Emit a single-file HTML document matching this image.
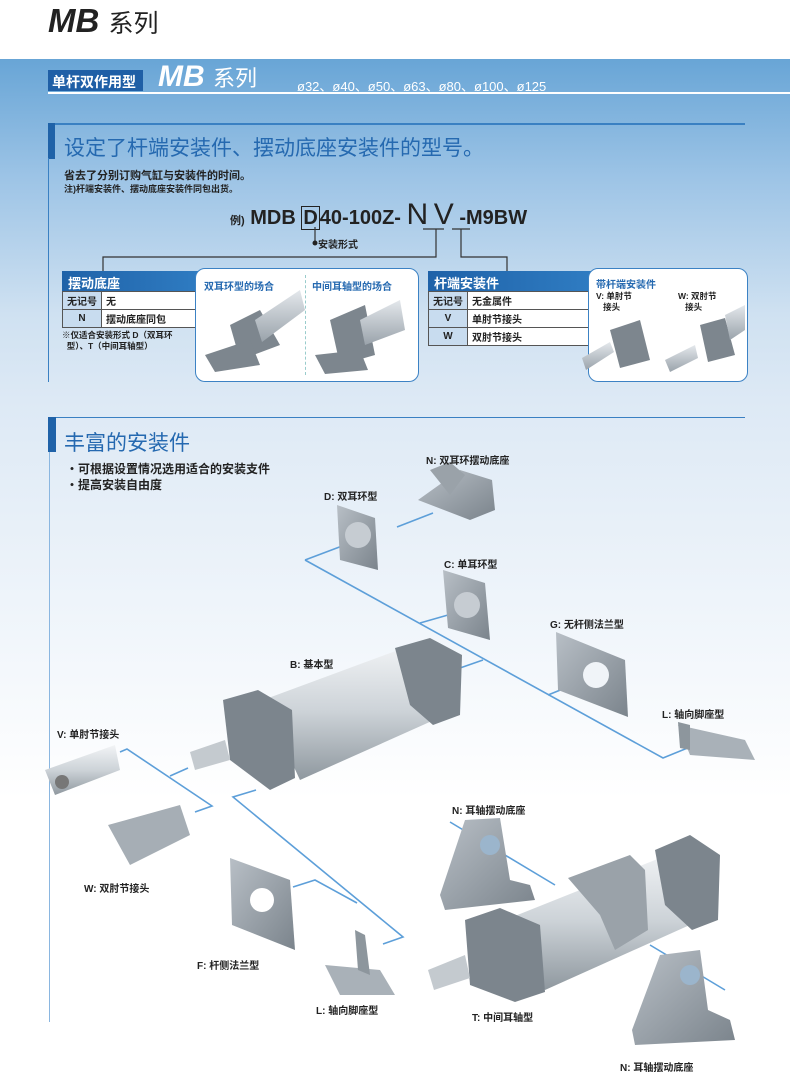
<!DOCTYPE html>
<html><head><meta charset="utf-8"><style>
body{margin:0;width:790px;height:1086px;position:relative;overflow:hidden;background:#fff;font-family:"Liberation Sans","Noto Sans CJK SC",sans-serif;color:#222}
.a{position:absolute;white-space:nowrap}
.top{position:absolute;left:0;top:59px;width:790px;height:340px;background:linear-gradient(#68a5d6 0%,#9dc4e6 35%,#cfe1f1 75%,#dde9f5 100%)}
.low{position:absolute;left:0;top:399px;width:790px;height:400px;background:linear-gradient(#dde9f5,#eef4fa 50%,#fff)}
table{border-collapse:collapse;font-size:10px;font-weight:bold}
td{border:1px solid #555;background:#fff;height:17px;padding:0 4px}
td.k{background:#c8dcef;text-align:center}
.hd{background:linear-gradient(90deg,#1f62a8,#2f7cc2);color:#fff;font-size:13px;font-weight:bold;padding:2px 6px;height:16px}
.panel{position:absolute;background:#fff;border:1.5px solid #3c82c4;border-radius:10px}
.lb{font-size:10px;font-weight:bold}
</style></head><body>
<div class="a" style="left:48px;top:2px;font-size:33px;font-weight:bold;font-style:italic">MB <span style="font-style:normal;font-weight:normal;font-size:25px">系列</span></div>
<div class="top"></div><div class="low"></div>
<div class="a" style="left:48px;top:70px;width:95px;height:21px;background:#1f5fa6"></div>
<div class="a" style="left:52px;top:72px;font-size:14px;color:#fff;font-weight:bold">单杆双作用型</div>
<div class="a" style="left:158px;top:60px;font-size:30px;color:#fff;font-weight:bold;font-style:italic">MB <span style="font-style:normal;font-weight:normal;font-size:22px">系列</span></div>
<div class="a" style="left:297px;top:76px;font-size:13px;color:#fff">ø32、ø40、ø50、ø63、ø80、ø100、ø125</div>
<div class="a" style="left:48px;top:92px;width:742px;height:2px;background:#fff"></div>

<div class="a" style="left:48px;top:123px;width:697px;height:2px;background:#3a80c2"></div>
<div class="a" style="left:48px;top:123px;width:7px;height:36px;background:#1f62a8"></div>
<div class="a" style="left:48px;top:158px;width:1px;height:224px;background:#3a80c2"></div>
<div class="a" style="left:64px;top:132px;font-size:21px;color:#2569b0">设定了杆端安装件、摆动底座安装件的型号。</div>
<div class="a" style="left:64px;top:167px;font-size:11px;font-weight:bold">省去了分别订购气缸与安装件的时间。</div>
<div class="a" style="left:64px;top:182px;font-size:9px;font-weight:bold">注)杆端安装件、摆动底座安装件同包出货。</div>
<div class="a" style="left:230px;top:198px;font-size:20px;font-weight:bold"><span style="font-size:11px">例)</span> MDB <span style="border:1px solid #222;padding:0 1px">D</span>40-100Z- <span style="font-size:30px;font-weight:normal">N</span> <span style="font-size:30px;font-weight:normal">V</span> -M9BW</div>
<svg class="a" style="left:0;top:0" width="790" height="400">
<g stroke="#333" stroke-width="1.2" fill="none">
<path d="M315 227V243"/><path d="M423 229H444M436 229V257H103V272"/><path d="M452 229H470M461 229V257H507V272"/>
</g><circle cx="315" cy="243" r="2.5" fill="#222"/></svg>
<div class="a" style="left:318px;top:236px;font-size:10px;font-weight:bold">安装形式</div>

<div class="a" style="left:62px;top:271px;width:140px"><div class="hd">摆动底座</div>
<table style="width:140px"><tr><td class="k" style="width:30px">无记号</td><td>无</td></tr><tr><td class="k">N</td><td>摆动底座同包</td></tr></table></div>
<div class="a" style="left:62px;top:330px;font-size:8.5px;line-height:11px;font-weight:bold">※仅适合安装形式 D（双耳环<br>&nbsp;&nbsp;型）、T（中间耳轴型）</div>
<div class="panel" style="left:195px;top:268px;width:222px;height:112px"></div>
<div class="a lb" style="left:204px;top:278px;color:#2569b0">双耳环型的场合</div>
<div class="a lb" style="left:312px;top:278px;color:#2569b0">中间耳轴型的场合</div>
<div class="a" style="left:305px;top:275px;height:100px;border-left:1px dashed #9cc"></div>

<div class="a" style="left:428px;top:271px;width:165px"><div class="hd">杆端安装件</div>
<table style="width:165px"><tr><td class="k" style="width:30px">无记号</td><td>无金属件</td></tr><tr><td class="k">V</td><td>单肘节接头</td></tr><tr><td class="k">W</td><td>双肘节接头</td></tr></table></div>
<div class="panel" style="left:588px;top:268px;width:158px;height:112px"></div>
<div class="a lb" style="left:596px;top:276px;color:#2569b0">带杆端安装件</div>
<div class="a" style="left:596px;top:291px;font-size:8.5px;font-weight:bold;line-height:11px">V: 单肘节<br>&nbsp;&nbsp;&nbsp;接头</div>
<div class="a" style="left:678px;top:291px;font-size:8.5px;font-weight:bold;line-height:11px">W: 双肘节<br>&nbsp;&nbsp;&nbsp;接头</div>

<svg class="a" style="left:0;top:0" width="790" height="400">
<defs><linearGradient id="m" x1="0" y1="0" x2="0" y2="1"><stop offset="0" stop-color="#e4e8ec"/><stop offset="1" stop-color="#9aa3ab"/></linearGradient></defs>
<g fill="#7d868e"><polygon points="230,325 260,310 280,345 240,360"/><polygon points="205,355 250,340 260,365 215,372"/><polygon points="330,320 365,305 375,355 340,365"/><polygon points="315,355 360,350 368,370 325,374"/><polygon points="610,330 640,320 650,360 620,368"/><polygon points="700,325 725,318 735,355 708,362"/></g>
<g fill="url(#m)"><polygon points="255,320 300,290 305,310 262,342"/><polygon points="360,320 400,300 405,330 365,345"/><polygon points="582,358 610,342 614,352 586,370"/><polygon points="665,360 695,345 698,358 670,372"/><polygon points="725,315 745,305 745,330 730,340"/></g>
</svg>

<div class="a" style="left:48px;top:417px;width:697px;height:1px;background:#3a80c2"></div>
<div class="a" style="left:48px;top:417px;width:8px;height:35px;background:#1f62a8"></div>
<div class="a" style="left:49px;top:452px;width:1px;height:570px;background:#8ab6e0"></div>
<div class="a" style="left:64px;top:427px;font-size:21px;color:#2569b0">丰富的安装件</div>
<div class="a" style="left:66px;top:461px;font-size:12px;font-weight:bold;line-height:16px">・可根据设置情况选用适合的安装支件<br>・提高安装自由度</div>

<svg class="a" style="left:0;top:0" width="790" height="1086">
<defs>
<linearGradient id="t" x1="0" y1="0" x2="0" y2="1"><stop offset="0" stop-color="#f2f4f6"/><stop offset=".5" stop-color="#cdd3d8"/><stop offset="1" stop-color="#8f989f"/></linearGradient>
<linearGradient id="g" x1="0" y1="0" x2="1" y2="1"><stop offset="0" stop-color="#b8bfc6"/><stop offset="1" stop-color="#7b848c"/></linearGradient>
</defs>
<g stroke="#5d9fd9" stroke-width="1.6" fill="none">
<path d="M305 560L663 758L690 747"/><path d="M305 560L358 540"/><path d="M420 623L455 613"/><path d="M483 660L460 668"/><path d="M548 695L590 678"/><path d="M397 527L433 513"/>
<path d="M120 752L127 749L212 806L195 812"/><path d="M170 776L188 768"/>
<path d="M256 790L233 797L403 937L383 944"/><path d="M357 903L315 880L293 887"/>
<path d="M450 822L555 885"/><path d="M650 945L725 990"/>
</g>
<polygon points="418,500 460,470 492,480 495,510 470,520" fill="url(#g)"/>
<polygon points="430,470 450,462 465,475 450,495" fill="#9aa2a9"/>
<polygon points="337,505 375,518 378,570 340,560" fill="url(#g)"/><circle cx="358" cy="535" r="13" fill="#c6ccd2"/>
<polygon points="443,570 485,583 490,640 448,628" fill="url(#g)"/><circle cx="467" cy="605" r="13" fill="#c6ccd2"/>
<polygon points="556,632 625,660 628,717 558,690" fill="url(#g)"/><circle cx="596" cy="675" r="13" fill="#f0f4f8"/>
<polygon points="678,725 745,740 755,760 690,755" fill="#a9b1b8"/><polygon points="678,722 690,725 690,750 680,748" fill="#8d969d"/>
<polygon points="263,700 420,642 452,712 300,780" fill="url(#t)"/>
<polygon points="395,648 430,638 462,655 460,715 433,725 410,705" fill="#7c858d"/>
<polygon points="223,700 258,690 292,710 295,778 270,790 230,760" fill="#7c858d"/>
<polygon points="190,752 225,740 230,760 195,770" fill="#c4cacf"/>
<polygon points="45,770 115,745 120,770 55,795" fill="url(#t)"/><circle cx="62" cy="782" r="7" fill="#777"/>
<polygon points="108,825 180,805 190,835 130,865" fill="#a6aeb5"/>
<polygon points="230,858 290,880 295,950 232,925" fill="url(#g)"/><circle cx="262" cy="900" r="12" fill="#fff"/>
<polygon points="325,965 380,970 395,995 340,995" fill="#a9b1b8"/><polygon points="355,930 365,935 370,975 358,970" fill="#8d969d"/>
<polygon points="440,895 465,820 500,818 510,880 530,885 535,900 445,910" fill="url(#g)"/><circle cx="490" cy="845" r="10" fill="#9bb5cc"/>
<polygon points="505,920 680,850 712,915 545,990" fill="url(#t)"/>
<polygon points="655,850 690,835 720,855 718,920 692,930 665,905" fill="#7c858d"/>
<polygon points="568,878 630,855 645,870 648,930 615,950 600,915" fill="#9aa2a9"/>
<polygon points="465,920 500,908 540,925 545,992 515,1002 470,985" fill="#7c858d"/>
<polygon points="428,970 465,955 470,978 434,990" fill="#c4cacf"/>
<polygon points="632,1030 660,955 700,950 708,1010 730,1020 735,1040 635,1045" fill="url(#g)"/><circle cx="690" cy="975" r="10" fill="#9bb5cc"/>
</svg>
<div class="a lb" style="left:426px;top:452px">N: 双耳环摆动底座</div>
<div class="a lb" style="left:324px;top:488px">D: 双耳环型</div>
<div class="a lb" style="left:444px;top:556px">C: 单耳环型</div>
<div class="a lb" style="left:550px;top:616px">G: 无杆侧法兰型</div>
<div class="a lb" style="left:290px;top:656px">B: 基本型</div>
<div class="a lb" style="left:662px;top:706px">L: 轴向脚座型</div>
<div class="a lb" style="left:57px;top:726px">V: 单肘节接头</div>
<div class="a lb" style="left:84px;top:880px">W: 双肘节接头</div>
<div class="a lb" style="left:197px;top:957px">F: 杆侧法兰型</div>
<div class="a lb" style="left:316px;top:1002px">L: 轴向脚座型</div>
<div class="a lb" style="left:452px;top:802px">N: 耳轴摆动底座</div>
<div class="a lb" style="left:472px;top:1009px">T: 中间耳轴型</div>
<div class="a lb" style="left:620px;top:1059px">N: 耳轴摆动底座</div>
</body></html>
